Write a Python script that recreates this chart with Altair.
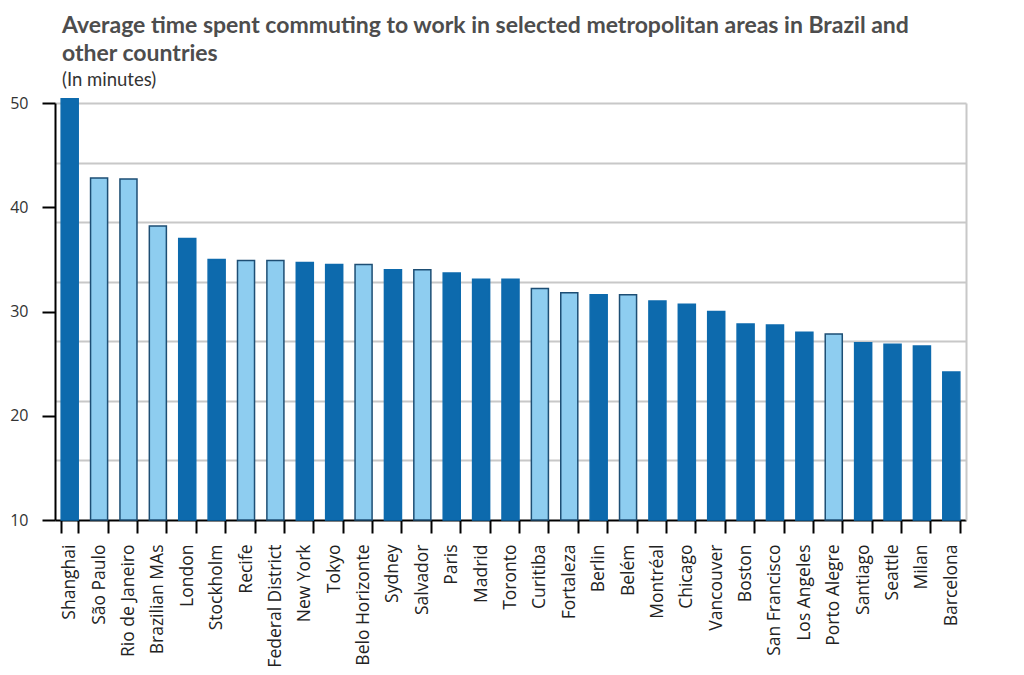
import altair as alt
import pandas as pd

cities = ["Shanghai", "São Paulo", "Rio de Janeiro", "Brazilian MAs", "London",
          "Stockholm", "Recife", "Federal District", "New York", "Tokyo",
          "Belo Horizonte", "Sydney", "Salvador", "Paris", "Madrid", "Toronto",
          "Curitiba", "Fortaleza", "Berlin", "Belém", "Montréal", "Chicago",
          "Vancouver", "Boston", "San Francisco", "Los Angeles", "Porto Alegre",
          "Santiago", "Seattle", "Milan", "Barcelona"]
minutes = [50.4, 42.8, 42.7, 38.2, 37.0, 35.0, 34.9, 34.9, 34.7, 34.5,
           34.5, 34.0, 34.0, 33.7, 33.1, 33.1, 32.2, 31.8, 31.6, 31.6,
           31.0, 30.7, 30.0, 28.8, 28.7, 28.0, 27.85, 27.0, 26.85, 26.7, 24.2]
groups = ["Other", "Brazil", "Brazil", "Brazil", "Other",
          "Other", "Brazil", "Brazil", "Other", "Other",
          "Brazil", "Other", "Brazil", "Other", "Other", "Other",
          "Brazil", "Brazil", "Other", "Brazil", "Other", "Other",
          "Other", "Other", "Other", "Other", "Brazil",
          "Other", "Other", "Other", "Other"]

y_ticks = [10, 20, 30, 40, 50]
grid_values = [15.714, 21.429, 27.143, 32.857, 38.571, 44.286, 50.0]

df = pd.DataFrame({"city": cities, "minutes": minutes, "group": groups})

y_scale = alt.Scale(domain=[10, 50], nice=False, zero=False)

x_enc = alt.X(
    "city:N", sort=cities,
    scale=alt.Scale(paddingInner=0.42, paddingOuter=0.21),
    axis=alt.Axis(title=None, labelAngle=-90, labelAlign="right", labelBaseline="middle",
                  tickBand="extent", tickSize=13, tickWidth=2, tickColor="black",
                  domainColor="black", domainWidth=2, labelPadding=11, labelOverlap=False,
                  labelFont="Open Sans", labelFontSize=17.5, labelColor="#222222"),
)

base = alt.Chart(df)

grid_layer = base.mark_bar(opacity=0).encode(
    x=x_enc,
    y=alt.Y("minutes:Q", scale=y_scale,
            axis=alt.Axis(orient="right", title=None, values=grid_values, grid=True,
                          gridColor="#c8c8c8", gridWidth=2, labels=False, ticks=False,
                          domain=True, domainColor="#c8c8c8", domainWidth=2)),
    y2=alt.datum(10),
)

bars = base.mark_bar(strokeWidth=1.5).encode(
    x=x_enc,
    y=alt.Y("minutes:Q", scale=y_scale,
            axis=alt.Axis(orient="left", title=None, values=y_ticks, grid=False,
                          tickSize=13, tickWidth=2, tickColor="black",
                          domainColor="black", domainWidth=2, labelPadding=14,
                          labelFont="Open Sans", labelFontSize=16, labelColor="#333333")),
    y2=alt.datum(10),
    color=alt.Color("group:N", scale=alt.Scale(domain=["Other", "Brazil"],
                                               range=["#0d6aad", "#8ecdf0"]), legend=None),
    stroke=alt.Stroke("group:N", scale=alt.Scale(domain=["Other", "Brazil"],
                                                 range=["#0d6aad", "#1d4e74"]), legend=None),
)

chart = alt.layer(grid_layer, bars).resolve_axis(y="independent").properties(
    width=911, height=417,
    autosize=alt.AutoSizeParams(type="none"),
    padding={"left": 47, "top": 95, "right": 50, "bottom": 155},
    title=alt.TitleParams(
        text=["Average time spent commuting to work in selected metropolitan areas in Brazil and",
              "other countries"],
        subtitle="(In minutes)",
        anchor="start", frame="group", dx=7, offset=6,
        font="Lato", fontSize=23, fontWeight="bold", color="#4d4d4d", lineHeight=28,
        subtitleFont="Lato", subtitleFontSize=18.5, subtitleColor="#333333", subtitlePadding=5,
    ),
).configure_view(stroke=None)

chart.save("out.html", embed_options={"renderer": "svg", "actions": False})
